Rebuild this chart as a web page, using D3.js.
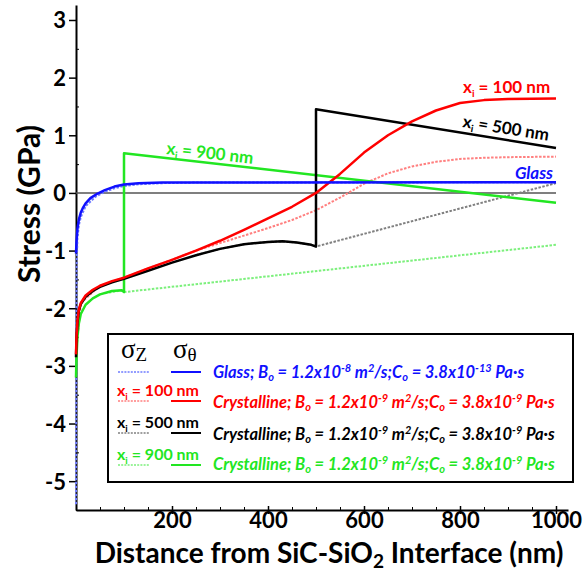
<!DOCTYPE html>
<html>
<head>
<meta charset="utf-8">
<script src="https://cdn.jsdelivr.net/npm/d3@7"></script>
<style>
  html, body { margin: 0; padding: 0; background: #fff; }
  svg { display: block; }
  text { font-family: Lato, "Open Sans", sans-serif; font-weight: bold; }
</style>
</head>
<body>
<svg id="chart" width="587" height="575"></svg>
<script>
// ---- data: stress profiles (GPa) vs distance from the SiC-SiO2 interface (nm) ----
// glass oxide
const glassTheta = [[0,-1.05],[1,-0.85],[3,-0.62],[6,-0.46],[10,-0.34],[15,-0.25],[20,-0.18],[30,-0.09],[45,-0.01],[60,0.05],[80,0.11],[100,0.145],[130,0.17],[180,0.18],[1000,0.185]];
const glassZ = [[0,-5.4],[0.6,-3.2],[1.2,-1.3],[3,-0.78],[6,-0.56],[10,-0.42],[20,-0.23],[40,-0.07],[60,0.02],[80,0.08],[100,0.12],[130,0.15],[180,0.17],[250,0.18],[1000,0.185]];
// crystallisation front at 100 nm
const red100Theta = [[0,-2.8],[1,-2.5],[3,-2.22],[6,-2.02],[10,-1.91],[20,-1.78],[35,-1.68],[50,-1.61],[75,-1.53],[100,-1.47],[150,-1.31],[200,-1.16],[250,-1.0],[300,-0.83],[350,-0.64],[400,-0.44],[450,-0.24],[500,0.0],[550,0.33],[600,0.7],[650,1.0],[700,1.24],[750,1.43],[800,1.56],[850,1.61],[900,1.63],[1000,1.64]];
const red100Z = [[0,-2.8],[10,-1.91],[50,-1.61],[100,-1.47],[150,-1.31],[200,-1.16],[250,-1.0],[300,-0.87],[350,-0.74],[400,-0.61],[450,-0.47],[500,-0.3],[550,-0.08],[600,0.16],[650,0.34],[700,0.46],[750,0.54],[800,0.59],[850,0.61],[900,0.62],[1000,0.63]];
// crystallisation front at 500 nm
const black500Theta = [[0,-2.85],[1,-2.55],[3,-2.26],[6,-2.04],[10,-1.93],[20,-1.8],[35,-1.7],[50,-1.63],[75,-1.55],[100,-1.49],[150,-1.35],[200,-1.21],[250,-1.08],[300,-0.97],[350,-0.89],[400,-0.85],[430,-0.84],[460,-0.86],[490,-0.9],[500,-0.93],[500,1.45],[1000,0.78]];
const black500Z = [[250,-1.08],[300,-0.97],[350,-0.89],[400,-0.85],[430,-0.84],[460,-0.86],[490,-0.9],[500,-0.93],[1000,0.17]];
// crystallisation front at 900 nm
const green900Theta = [[0,-3.2],[1,-2.85],[3,-2.5],[6,-2.26],[10,-2.1],[20,-1.94],[35,-1.83],[50,-1.76],[75,-1.7],[95,-1.69],[100,-1.72],[100,0.69],[1000,-0.17]];
const green900Z = [[60,-1.74],[95,-1.69],[100,-1.72],[1000,-0.9]];
const zeroLine = [[0,0],[1000,0]];

const xMajorTicks = [200, 400, 600, 800, 1000];
const xMinorTicks = d3.range(50, 1001, 50);
const yMajorTicks = [-5, -4, -3, -2, -1, 0, 1, 2, 3];
const yMinorTicks = d3.range(-5.5, 3.01, 0.5).filter(v => !Number.isInteger(v));

const svg = d3.select("#chart");
const x = d3.scaleLinear().domain([0, 1025]).range([76, 568]);
const y = d3.scaleLinear().domain([-5.5, 3.26]).range([510, 5]);
const line = d3.line().x(d => x(d[0])).y(d => y(d[1]));
const plain = d => String(d);   // hyphen-minus, no thousands separator

// ---- axes ----
const xAxis = svg.append("g").attr("transform", `translate(0,${y(-5.5)})`)
  .call(d3.axisBottom(x).tickValues(xMajorTicks).tickSize(4).tickPadding(3).tickSizeOuter(0).tickFormat(plain));
xAxis.selectAll(".tick line").attr("y1", -4).attr("stroke-width", 1.5);
xAxis.selectAll(".tick text").attr("font-size", 22).attr("dy", "0.5em");
svg.append("g").attr("transform", `translate(0,${y(-5.5)})`)
  .call(d3.axisTop(x).tickValues(xMinorTicks.filter(v => !xMajorTicks.includes(v))).tickSize(3).tickFormat("").tickSizeOuter(0))
  .select(".domain").remove();

const yAxis = svg.append("g").attr("transform", `translate(${x(0)},0)`)
  .call(d3.axisLeft(y).tickValues(yMajorTicks).tickSize(7).tickPadding(3).tickSizeOuter(0).tickFormat(plain));
yAxis.selectAll(".tick line").attr("stroke-width", 1.5);
yAxis.selectAll(".tick text").attr("font-size", 22).attr("dy", "0.36em");
svg.append("g").attr("transform", `translate(${x(0)},0)`)
  .call(d3.axisRight(y).tickValues(yMinorTicks).tickSize(3).tickFormat("").tickSizeOuter(0))
  .select(".domain").remove();
svg.selectAll(".domain").attr("stroke-width", 2);

// axis titles
svg.append("text").attr("transform", `translate(40,204) rotate(-90)`)
  .attr("text-anchor", "middle").attr("font-size", 30).text("Stress (GPa)");
const xt = svg.append("text").attr("x", 329).attr("y", 563).attr("text-anchor", "middle").attr("font-size", 28);
xt.append("tspan").text("Distance from SiC-SiO");
xt.append("tspan").attr("font-size", 19).attr("dy", 5).text("2");
xt.append("tspan").attr("dy", -5).text(" Interface (nm)");

// ---- curves ----
svg.append("path").datum(zeroLine).attr("d", line).attr("fill", "none").attr("stroke", "#555").attr("stroke-width", 1.6);

const dotted = [
  { d: glassZ, c: "#6f7cff" },
  { d: red100Z, c: "#ff7f7f" },
  { d: black500Z, c: "#808080" },
  { d: green900Z, c: "#7cf07c" }
];
dotted.forEach(s => svg.append("path").datum(s.d).attr("d", line).attr("fill", "none")
  .attr("stroke", s.c).attr("stroke-width", 2).attr("stroke-dasharray", "2.5,1.5"));

const solid = [
  { d: green900Theta, c: "#22e622" },
  { d: black500Theta, c: "#000000" },
  { d: red100Theta, c: "#ff0000" },
  { d: glassTheta, c: "#1010ff" }
];
solid.forEach(s => svg.append("path").datum(s.d).attr("d", line).attr("fill", "none")
  .attr("stroke", s.c).attr("stroke-width", 2.5).attr("stroke-linejoin", "round"));

// ---- in-plot labels ----
function xiLabel(g, px, py, value, color, size, angle) {
  const t = g.append("text").attr("transform", `translate(${px},${py}) rotate(${angle})`)
    .attr("fill", color).attr("font-size", size);
  t.append("tspan").text("x");
  t.append("tspan").attr("font-size", size * 0.6).attr("dy", size * 0.22).text("i");
  t.append("tspan").attr("dy", -size * 0.22).text(` = ${value} nm`);
  return t;
}
const angleOf = (a, b) => Math.atan2(y(b[1]) - y(a[1]), x(b[0]) - x(a[0])) * 180 / Math.PI;
xiLabel(svg, 463, 93, 100, "#ff0000", 17, 0);
xiLabel(svg, 462, 127, 500, "#000000", 17, angleOf([500, 1.45], [1000, 0.78]));
xiLabel(svg, 166, 154, 900, "#22e622", 17, angleOf([100, 0.69], [1000, -0.17]));
svg.append("text").attr("x", 553).attr("y", 179).attr("text-anchor", "end")
  .attr("fill", "#1010ff").attr("font-size", 17).attr("font-style", "italic").text("Glass");

// ---- legend ----
const lg = svg.append("g");
lg.append("rect").attr("x", 108).attr("y", 334).attr("width", 465).attr("height", 148)
  .attr("fill", "#fff").attr("stroke", "#000").attr("stroke-width", 2);
const sig = (px, sub) => {
  const t = lg.append("text").attr("x", px).attr("y", 358)
    .style("font-family", "'Liberation Serif', 'DejaVu Serif', serif").style("font-weight", "normal")
    .attr("font-size", 27);
  t.append("tspan").text("σ");
  t.append("tspan").attr("font-size", 19).attr("dy", 3).text(sub);
};
sig(121, "Z");
sig(173, "θ");

function richText(px, py, parts, color) {
  const t = lg.append("text").attr("x", px).attr("y", py).attr("fill", color)
    .attr("font-size", 16.5).attr("font-style", "italic");
  let shift = 0;
  parts.forEach(([s, kind]) => {
    const target = kind === "sup" ? -6 : kind === "sub" ? 3 : 0;
    const ts = t.append("tspan").attr("dy", target - shift).text(s);
    if (kind) ts.attr("font-size", 11);
    shift = target;
  });
}
const crystalParts = [["Crystalline; B"], ["o", "sub"], [" = 1.2x10"], ["-9", "sup"], [" m"], ["2", "sup"], ["/s;C"], ["o", "sub"], [" = 3.8x10"], ["-9", "sup"], [" Pa·s"]];
const glassParts = [["Glass; B"], ["o", "sub"], [" = 1.2x10"], ["-8", "sup"], [" m"], ["2", "sup"], ["/s;C"], ["o", "sub"], [" = 3.8x10"], ["-13", "sup"], [" Pa·s"]];

const legendRows = [
  { label: null, parts: glassParts, c: "#1010ff", dc: "#6f7cff", ly: 372, ty: 378 },
  { label: 100, parts: crystalParts, c: "#ff0000", dc: "#ff7f7f", ly: 401, ty: 408 },
  { label: 500, parts: crystalParts, c: "#000000", dc: "#808080", ly: 433, ty: 440 },
  { label: 900, parts: crystalParts, c: "#22e622", dc: "#7cf07c", ly: 465, ty: 470 }
];
legendRows.forEach(r => {
  lg.append("line").attr("x1", 118).attr("x2", 150).attr("y1", r.ly).attr("y2", r.ly)
    .attr("stroke", r.dc).attr("stroke-width", 1.5).attr("stroke-dasharray", "2,1.2");
  lg.append("line").attr("x1", 171).attr("x2", 201).attr("y1", r.ly).attr("y2", r.ly)
    .attr("stroke", r.c).attr("stroke-width", 2);
  if (r.label !== null) xiLabel(lg, 117, r.ly - 5, r.label, r.c, 16, 0);
  richText(213, r.ty, r.parts, r.c);
});
</script>
</body>
</html>
